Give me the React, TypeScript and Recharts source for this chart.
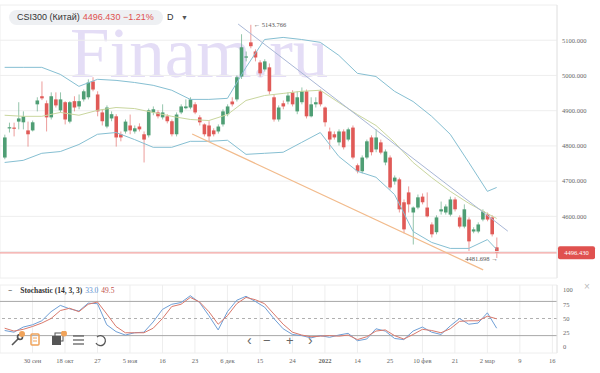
import {
  ComposedChart,
  Bar,
  Line,
  XAxis,
  YAxis,
  CartesianGrid,
  ReferenceLine,
  ReferenceDot,
} from 'recharts';

// daily candles, CSI300
const opens = [
  4767, 4850, 4852, 4869, 4867, 4844, 4844, 4918, 4941, 4921, 4881, 4932, 4901, 4924, 4869, 4927, 4912, 4932, 4938, 4983,
  4946, 4895, 4855, 4878, 4884, 4833, 4841, 4858, 4841, 4855, 4833, 4830, 4895, 4895, 4881, 4884, 4870, 4833, 4895, 4907,
  4909, 4918, 4881, 4861, 4858, 4844, 4841, 4861, 4890, 4926, 4932, 4997, 5051, 5094, 5068, 5037, 5017, 5023, 4938, 4875,
  4921, 4926, 4952, 4898, 4924, 4955, 4884, 4918, 4955, 4909, 4841, 4833, 4810, 4841, 4818, 4852, 4745, 4728, 4767, 4824,
  4790, 4810, 4753, 4767, 4699, 4705, 4640, 4668, 4611, 4625, 4656, 4625, 4577, 4555, 4614, 4611, 4605, 4648, 4597, 4571,
  4591, 4557, 4557, 4591, 4605, 4597, 4512,
];
const highs = [
  4832, 4866, 4866, 4924, 4898, 4869, 4872, 4938, 4983, 4929, 4952, 4952, 4952, 4927, 4927, 4941, 4946, 4960, 4989, 4995,
  4955, 4904, 4915, 4898, 4890, 4841, 4875, 4889, 4858, 4864, 4841, 4906, 4912, 4901, 4918, 4890, 4875, 4895, 4918, 4932,
  4938, 4924, 4887, 4864, 4870, 4850, 4861, 4904, 4918, 4938, 5000, 5117, 5068, 5143.766, 5074, 5043, 5046, 5034, 4946, 4915,
  4929, 4952, 4958, 4955, 4966, 4960, 4938, 4938, 4960, 4912, 4852, 4841, 4847, 4847, 4852, 4858, 4750, 4773, 4818, 4830,
  4847, 4818, 4790, 4773, 4716, 4710, 4648, 4685, 4628, 4662, 4665, 4668, 4583, 4603, 4642, 4634, 4656, 4654, 4603, 4634,
  4597, 4569, 4583, 4620, 4611, 4603, 4540,
];
const lows = [
  4762, 4838, 4827, 4847, 4847, 4798, 4841, 4898, 4930, 4841, 4875, 4909, 4895, 4861, 4864, 4898, 4904, 4926, 4932, 4955,
  4884, 4858, 4850, 4870, 4798, 4813, 4835, 4833, 4835, 4841, 4753, 4824, 4887, 4878, 4875, 4864, 4827, 4827, 4890, 4904,
  4904, 4890, 4858, 4827, 4813, 4827, 4835, 4855, 4884, 4912, 4926, 4990, 5040, 5077, 5040, 4997, 5011, 4946, 4869, 4869,
  4904, 4918, 4912, 4890, 4918, 4878, 4881, 4909, 4912, 4855, 4790, 4818, 4801, 4790, 4813, 4762, 4722, 4722, 4762, 4773,
  4782, 4776, 4745, 4676, 4690, 4611, 4552, 4611, 4520, 4620, 4634, 4597, 4540, 4549, 4605, 4605, 4600, 4614, 4566, 4566,
  4500, 4552, 4552, 4586, 4586, 4543, 4481.698,
];
const closes = [
  4824, 4853, 4849, 4878, 4884, 4833, 4867, 4929, 4935, 4881, 4941, 4915, 4932, 4875, 4924, 4909, 4927, 4955, 4980, 4960,
  4898, 4870, 4909, 4890, 4824, 4824, 4869, 4844, 4850, 4847, 4818, 4901, 4904, 4884, 4895, 4870, 4833, 4889, 4912, 4912,
  4932, 4895, 4867, 4833, 4827, 4833, 4855, 4898, 4912, 4918, 4995, 5080, 5054, 5083, 5051, 5006, 5040, 4955, 4875, 4909,
  4912, 4943, 4918, 4938, 4955, 4884, 4918, 4924, 4918, 4867, 4818, 4824, 4841, 4796, 4847, 4767, 4728, 4767, 4813, 4782,
  4824, 4781, 4784, 4682, 4710, 4620, 4563, 4634, 4625, 4654, 4640, 4600, 4549, 4597, 4620, 4628, 4648, 4620, 4571, 4620,
  4529, 4563, 4577, 4614, 4591, 4549, 4496.43,
];

// Bollinger (20, 2) read at every 4th candle
const bandIdx = [0, 4, 8, 12, 16, 20, 24, 28, 32, 36, 40, 44, 48, 52, 56, 60, 64, 68, 72, 76, 80, 84, 88, 92, 96, 100, 104, 106];
const bbUpper = [5023, 5023, 5023, 5003, 4969, 4989, 4986, 4980, 4972, 4958, 4932, 4932, 4935, 5023, 5102, 5108, 5102, 5094, 5057, 5006, 4997, 4955, 4926, 4884, 4833, 4753, 4671, 4682];
const bbMid = [4887, 4884, 4884, 4895, 4887, 4901, 4909, 4906, 4895, 4884, 4875, 4872, 4889, 4929, 4943, 4949, 4955, 4958, 4923, 4889, 4858, 4810, 4753, 4710, 4671, 4637, 4608, 4594];
const bbLower = [4753, 4759, 4779, 4784, 4804, 4833, 4838, 4818, 4796, 4796, 4813, 4813, 4816, 4776, 4779, 4782, 4810, 4838, 4770, 4728, 4711, 4662, 4557, 4526, 4509, 4509, 4534, 4506];

// Stochastic (14, 3, 3) read at every 2nd candle
const stochIdx = [
  0, 2, 4, 6, 8, 10, 12, 14, 16, 18, 20, 22, 24, 26, 28, 30, 32, 34, 36, 38, 40, 42, 44, 46, 48, 50, 52,
  54, 56, 58, 60, 62, 64, 66, 68, 70, 72, 74, 76, 78, 80, 82, 84, 86, 88, 90, 92, 94, 96, 98, 100, 102, 104, 106,
];
const stochK = [
  29, 26, 35, 39, 46, 62, 73, 67, 63, 77, 76, 39, 27, 21, 25, 26, 44, 66, 75, 78, 90, 78, 55, 30, 62, 82, 89,
  80, 70, 50, 32, 22, 20, 16, 20, 17, 21, 24, 11, 14, 32, 28, 15, 13, 28, 35, 26, 22, 37, 50, 40, 42, 60, 33,
];
const stochD = [
  33, 28, 31, 36, 42, 50, 64, 68, 62, 75, 79, 58, 36, 25, 25, 25, 33, 50, 71, 75, 87, 79, 62, 40, 55, 76, 87,
  83, 76, 58, 40, 26, 21, 18, 19, 20, 19, 21, 13, 18, 28, 30, 20, 14, 22, 31, 29, 25, 32, 45, 46, 46, 54, 49.5,
];

// date axis (every 7th candle)
const tickIdx = [6, 13, 20, 27, 34, 41, 48, 55, 62, 69, 76, 83, 90, 97, 104, 111, 118];
const tickLabels = ['30 сен', '18 окт', '27', '5 ноя', '16', '23', '6 дек', '15', '24', '2022', '14', '25', '10 фев', '21', '2 мар', '9', '16'];

// 4500 sits under the price badge
const priceTicks = [4600, 4700, 4800, 4900, 5000, 5100];
const stochTicks = [0, 25, 50, 75, 100];

const GREEN = '#4f9e74';
const RED = '#e05a57';
const SERIF = '"Liberation Serif", "DejaVu Serif", serif';
const SANS = '"Liberation Sans", Arial, sans-serif';

const candles = opens.map((o, i) => {
  const row: any = { i, o, h: highs[i], l: lows[i], c: closes[i], range: [lows[i], highs[i]] };
  const b = bandIdx.indexOf(i);
  if (b >= 0) {
    row.up = bbUpper[b];
    row.mid = bbMid[b];
    row.low = bbLower[b];
  }
  return row;
});

const stochData = stochIdx.map((i, k) => ({ i, k: stochK[k], d: stochD[k] }));

const Candle = (props: any) => {
  const { x, y, width, height, payload } = props;
  if (x == null || y == null) return null;
  const top = Math.min(y, y + height);
  const hh = Math.abs(height);
  const { o, h, l, c } = payload;
  const cx = x + width / 2;
  const k = hh / (h - l || 1);
  const yOf = (v: number) => top + (h - v) * k;
  const color = c >= o ? GREEN : RED;
  const bt = yOf(Math.max(o, c));
  const bb = yOf(Math.min(o, c));
  return (
    <g>
      <line x1={cx} x2={cx} y1={top} y2={top + hh} stroke={color} strokeOpacity={0.6} strokeWidth={1} />
      <rect x={cx - 1.8} y={bt} width={3.6} height={Math.max(bb - bt, 1.2)} fill={color} />
    </g>
  );
};

const DateTick = (props: any) => {
  const { x, y, payload } = props;
  const n = tickIdx.indexOf(payload.value);
  const label = tickLabels[n] ?? '';
  return (
    <text x={x} y={y + 6} textAnchor="middle" fontSize={6.5} fontFamily={SERIF} fill="#666"
      fontWeight={label === '2022' ? 'bold' : 'normal'}>
      {label}
    </text>
  );
};

const last = closes[closes.length - 1];

export default function App() {
  return (
    <div style={{ position: 'fixed', left: 0, top: 0, width: 600, height: 373, background: '#fff', overflow: 'hidden' }}>
      <svg width={600} height={373} style={{ position: 'absolute', left: 0, top: 0 }}>
        <text x={70} y={77} fontSize={71} fontFamily={SERIF} fill="#e4ddf6">Finam.ru</text>
      </svg>

      <div style={{ position: 'absolute', left: 0, top: 0 }}>
        <ComposedChart width={600} height={280} data={candles} margin={{ top: 5, right: 0, bottom: 2, left: 0 }}>
          <CartesianGrid stroke="#eeeeee" />
          <XAxis type="number" dataKey="i" domain={[-1, 119]} ticks={tickIdx} tick={false} tickLine={false} axisLine={false} height={0} />
          <YAxis
            orientation="right"
            domain={[4425, 5200]}
            ticks={priceTicks}
            width={43}
            tickSize={0}
            tickMargin={5}
            axisLine={{ stroke: '#e6e6e6' }}
            tick={{ fontSize: 6.5, fontFamily: SERIF, fill: '#666' }}
            tickFormatter={(v: number) => v.toFixed(3)}
          />
          <ReferenceLine y={4500} stroke="#eeeeee" />
          <ReferenceLine y={last} stroke="#f2a3a1" strokeWidth={1.3} />
          <Line dataKey="up" stroke="#86bfd2" strokeWidth={1} dot={false} connectNulls isAnimationActive={false} />
          <Line dataKey="mid" stroke="#c9d69e" strokeWidth={1} dot={false} connectNulls isAnimationActive={false} />
          <Line dataKey="low" stroke="#86bfd2" strokeWidth={1} dot={false} connectNulls isAnimationActive={false} />
          <ReferenceLine segment={[{ x: 50.3, y: 5146 }, { x: 108.4, y: 4558 }]} stroke="#a9b7d6" strokeWidth={1} />
          <ReferenceLine segment={[{ x: 40.4, y: 4834 }, { x: 103.1, y: 4448 }]} stroke="#f2bb8c" strokeWidth={1.2} />
          <Bar dataKey="range" barSize={3} shape={<Candle />} isAnimationActive={false} />
          <ReferenceDot
            x={53}
            y={highs[53]}
            r={0}
            ifOverflow="visible"
            shape={(p: any) => (
              <text x={p.cx + 3} y={p.cy + 2} fontSize={6.5} fontFamily={SERIF} fill="#555">
                ← {highs[53].toFixed(3)}
              </text>
            )}
          />
          <ReferenceDot
            x={106}
            y={lows[106]}
            r={0}
            ifOverflow="visible"
            shape={(p: any) => (
              <text x={p.cx + 1} y={p.cy + 3} textAnchor="end" fontSize={6.5} fontFamily={SERIF} fill="#555">
                {lows[106].toFixed(3)} →
              </text>
            )}
          />
          <ReferenceDot
            x={119}
            y={last}
            r={0}
            ifOverflow="visible"
            shape={(p: any) => (
              <g>
                <rect x={p.cx + 1} y={p.cy - 6.5} width={37} height={13} rx={2} fill="#e0514f" />
                <text x={p.cx + 19.5} y={p.cy + 2.3} textAnchor="middle" fontSize={6.5} fontFamily={SERIF} fill="#fff">
                  {last.toFixed(3)}
                </text>
              </g>
            )}
          />
        </ComposedChart>
      </div>

      <div style={{ position: 'absolute', left: 0, top: 280 }}>
        <ComposedChart width={600} height={93} data={stochData} margin={{ top: 5, right: 0, bottom: 0, left: 0 }}>
          <CartesianGrid stroke="#eeeeee" horizontal={false} />
          <XAxis
            type="number"
            dataKey="i"
            domain={[-1, 119]}
            ticks={tickIdx}
            height={20}
            tickSize={0}
            tickMargin={4}
            axisLine={false}
            tick={<DateTick />}
          />
          <YAxis
            orientation="right"
            domain={[-10.5, 108.8]}
            ticks={stochTicks}
            width={43}
            tickSize={0}
            tickMargin={6}
            axisLine={{ stroke: '#e6e6e6' }}
            tick={{ fontSize: 6.5, fontFamily: SERIF, fill: '#666' }}
          />
          <ReferenceLine y={108.8} stroke="#eeeeee" />
          <ReferenceLine y={-10.5} stroke="#eeeeee" />
          <ReferenceLine y={80} stroke="#a8a8a8" strokeWidth={1} />
          <ReferenceLine y={50} stroke="#b0b0b0" strokeDasharray="3 3" />
          <ReferenceLine y={20} stroke="#a8a8a8" strokeWidth={1} />
          <Line dataKey="k" stroke="#6f9fd6" strokeWidth={1} dot={false} isAnimationActive={false} />
          <Line dataKey="d" stroke="#d9796c" strokeWidth={1} dot={false} isAnimationActive={false} />
        </ComposedChart>
      </div>

      {/* header */}
      <div style={{ position: 'absolute', left: 9, top: 10, height: 15, width: 154, borderRadius: 8, background: '#eef0f3',
        fontFamily: SANS, fontSize: 9, lineHeight: '15px', whiteSpace: 'nowrap' }}>
        <span style={{ marginLeft: 8, color: '#333' }}>CSI300 (Китай)</span>
        <span style={{ marginLeft: 3, color: '#e0514f' }}>4496.430 −1.21%</span>
      </div>
      <div style={{ position: 'absolute', left: 167, top: 10, fontFamily: SANS, fontSize: 9, lineHeight: '15px', color: '#333' }}>D</div>
      <div style={{ position: 'absolute', left: 181, top: 10, fontFamily: SANS, fontSize: 7, lineHeight: '15px', color: '#555' }}>▼</div>

      {/* stochastic legend */}
      <div style={{ position: 'absolute', left: 8, top: 286, fontFamily: SERIF, fontSize: 7.5, lineHeight: '10px', whiteSpace: 'nowrap' }}>
        <span style={{ color: '#333', fontWeight: 'bold' }}>−</span>
        <span style={{ marginLeft: 8, color: '#333', fontWeight: 'bold' }}>Stochastic (14, 3, 3)</span>
        <span style={{ marginLeft: 3, color: '#5b8fcf' }}>33.0</span>
        <span style={{ marginLeft: 3, color: '#c0504d' }}>49.5</span>
      </div>
      <div style={{ position: 'absolute', left: 584, top: 281, fontFamily: SANS, fontSize: 10, color: '#bbb' }}>×</div>

      {/* toolbar */}
      <svg width={330} height={20} style={{ position: 'absolute', left: 0, top: 331 }}>
        <g stroke="#555" strokeWidth={1.6} fill="none">
          <line x1={12} y1={14} x2={19} y2={7} />
          <circle cx={20} cy={6} r={2.5} />
        </g>
        <circle cx={22} cy={3} r={3} fill="#f0a35a" />
        <rect x={31} y={3} width={8} height={11} rx={1} fill="none" stroke="#f0a35a" strokeWidth={1.5} />
        <line x1={33} y1={7} x2={37} y2={7} stroke="#f0a35a" />
        <line x1={33} y1={10} x2={37} y2={10} stroke="#f0a35a" />
        <rect x={52} y={5} width={9} height={9} fill="#555" />
        <rect x={55} y={2} width={8} height={8} fill="none" stroke="#555" />
        <circle cx={64} cy={2.5} r={3} fill="#f0a35a" />
        <g stroke="#555" strokeWidth={1.2}>
          <line x1={73} y1={5} x2={84} y2={5} />
          <line x1={73} y1={9} x2={84} y2={9} />
          <line x1={73} y1={13} x2={84} y2={13} />
        </g>
        <path d="M97 6 A5 5 0 1 1 96 12" fill="none" stroke="#555" strokeWidth={1.3} />
        <text x={247} y={14} fontSize={14} fontFamily={SANS} fill="#666">‹</text>
        <text x={263} y={14} fontSize={13} fontFamily={SANS} fill="#666">−</text>
        <text x={286} y={14} fontSize={13} fontFamily={SANS} fill="#666">+</text>
        <text x={308} y={14} fontSize={14} fontFamily={SANS} fill="#666">›</text>
      </svg>
    </div>
  );
}
